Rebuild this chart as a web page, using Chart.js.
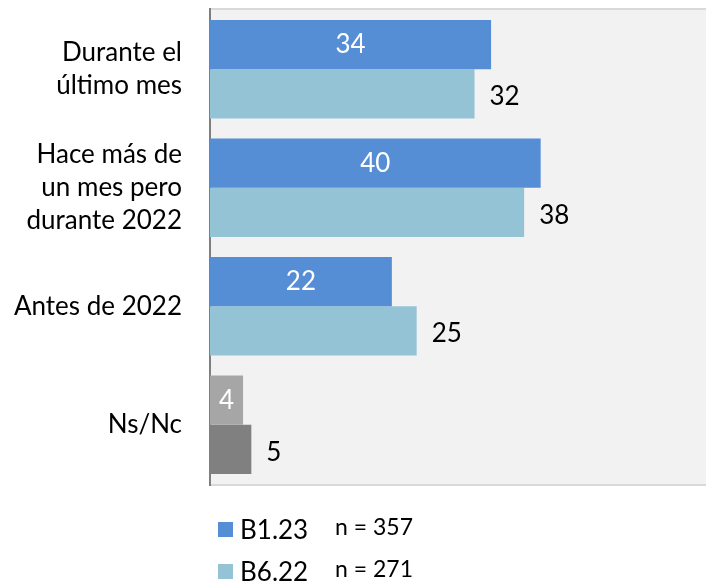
<!DOCTYPE html>
<html lang="es">
<head>
  <meta charset="UTF-8" />
  <title>Periodo</title>
  <script src="https://cdn.jsdelivr.net/npm/chart.js"></script>
  <style>
    html, body { margin: 0; padding: 0; background: #fff; }
    .wrap { position: relative; width: 706px; height: 583px; }
    .legend { position: absolute; left: 218px; top: 508px; font-family: Lato, "Open Sans", sans-serif; color: #000; }
    .legend .row { display: flex; align-items: center; height: 42px; }
    .legend .box { width: 15px; height: 15px; margin-right: 7px; margin-top: 0px; }
    .legend .name { font-size: 26px; width: 95px; }
    .legend .n { font-size: 23px; margin-top: -6px; }
  </style>
</head>
<body>
<div class="wrap">
  <canvas id="chart" width="706" height="583"></canvas>
  <div class="legend" id="legend"></div>
</div>
<script>
  const categories = [["Durante el", "último mes"], ["Hace más de", "un mes pero", "durante 2022"], ["Antes de 2022"], ["Ns/Nc"]];
  const seriesNames = ["B1.23", "B6.22"];
  const sampleSizes = ["n = 357", "n = 271"];
  const valuesB123 = [34, 40, 22, 4];
  const valuesB622 = [32, 38, 25, 5];
  const colorsB123 = ["#558ED5", "#558ED5", "#558ED5", "#A6A6A6"];
  const colorsB622 = ["#93C3D5", "#93C3D5", "#93C3D5", "#808080"];

  // fondo gris del área de trazado
  const plotBg = {
    id: "plotBg",
    beforeDraw(chart) {
      const { ctx, chartArea: a } = chart;
      ctx.save();
      ctx.fillStyle = "#F2F2F2";
      ctx.fillRect(a.left, a.top, a.right - a.left, a.bottom - a.top);
      ctx.fillStyle = "#D9D9D9";
      ctx.fillRect(a.left, a.top - 2, a.right - a.left, 2);
      ctx.fillRect(a.left, a.bottom, a.right - a.left, 2);
      ctx.fillStyle = "#7F7F7F";
      ctx.fillRect(a.left - 1, a.top - 2, 2, a.bottom - a.top + 4);
      ctx.restore();
    }
  };

  // etiquetas de valores
  const valueLabels = {
    id: "valueLabels",
    afterDatasetsDraw(chart) {
      const ctx = chart.ctx;
      ctx.save();
      ctx.font = "26px Lato, 'Open Sans', sans-serif";
      ctx.textBaseline = "middle";
      chart.data.datasets.forEach((ds, i) => {
        chart.getDatasetMeta(i).data.forEach((bar, j) => {
          const v = ds.data[j];
          if (i === 0) {
            ctx.fillStyle = "#fff";
            ctx.textAlign = "center";
            ctx.fillText(v, (bar.x + bar.base) / 2, bar.y);
          } else {
            ctx.fillStyle = "#000";
            ctx.textAlign = "left";
            ctx.fillText(v, bar.x + 15, bar.y + 3);
          }
        });
      });
      ctx.restore();
    }
  };

  new Chart(document.getElementById("chart"), {
    type: "bar",
    data: {
      labels: categories,
      datasets: [
        { label: seriesNames[0], data: valuesB123, backgroundColor: colorsB123 },
        { label: seriesNames[1], data: valuesB622, backgroundColor: colorsB622 }
      ]
    },
    options: {
      indexAxis: "y",
      responsive: false,
      animation: false,
      layout: { padding: { top: 10, bottom: 99, right: 0, left: 0 } },
      datasets: { bar: { categoryPercentage: 0.83, barPercentage: 1.0 } },
      plugins: { legend: { display: false }, tooltip: { enabled: false } },
      scales: {
        x: { display: false, min: 0, max: 60 },
        y: {
          afterFit(scale) {
            scale.width = 210;
            scale.paddingTop = 0;
            scale.paddingBottom = 0;
          },
          border: { display: false },
          grid: { display: false, drawTicks: false },
          ticks: {
            padding: 28,
            color: "#000",
            font: { family: "Lato, 'Open Sans', sans-serif", size: 26, lineHeight: 1.27 }
          }
        }
      }
    },
    plugins: [plotBg, valueLabels]
  });

  const legend = document.getElementById("legend");
  seriesNames.forEach((name, i) => {
    const row = document.createElement("div");
    row.className = "row";
    const color = i === 0 ? colorsB123[0] : colorsB622[0];
    row.innerHTML = `<span class="box" style="background:${color}"></span>` +
      `<span class="name">${name}</span><span class="n">${sampleSizes[i]}</span>`;
    legend.appendChild(row);
  });
</script>
</body>
</html>
